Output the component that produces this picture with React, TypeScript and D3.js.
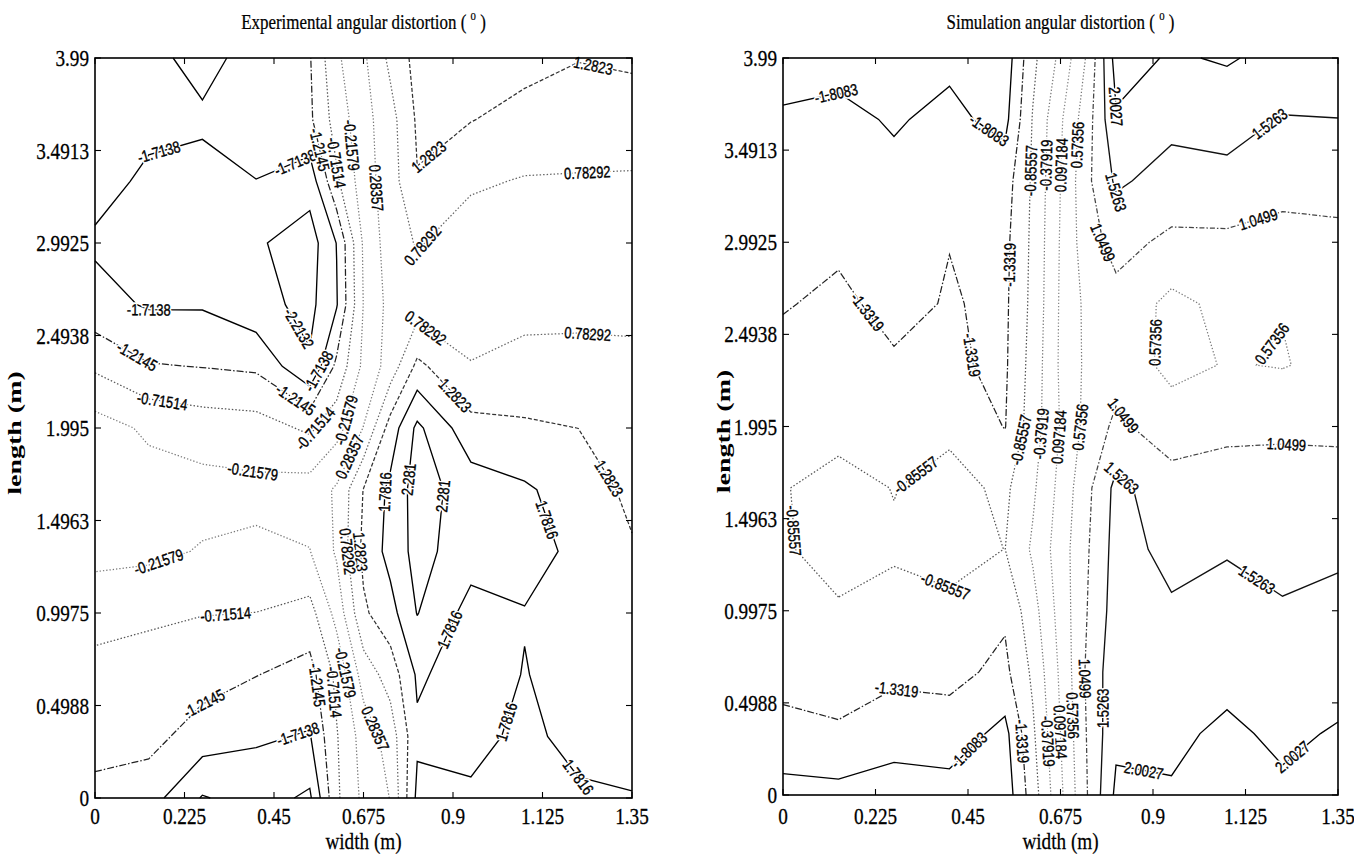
import React from 'react';
import * as d3 from 'd3';

type Pt = [number, number];

// grid node positions (m)
const xNodes = [0, 0.135, 0.27, 0.405, 0.54, 0.6075, 0.675, 0.7425, 0.81, 0.945, 1.08, 1.215, 1.35];
const yNodes = [0, 0.3325, 0.665, 0.9975, 1.33, 1.6625, 1.995, 2.3275, 2.66, 2.9925, 3.325, 3.6575, 3.99];

// Experimental angular distortion, rows from length 0 (bottom) to 3.99 (top)
const expGrid: number[][] = [
  [-1.3, -1.5, -2.25, -2.0, -2.3, -0.8, -0.1, 0.3, 1.9, 1.85, 1.95, 1.85, 1.8],
  [-1.1, -1.05, -1.45, -1.65, -1.75, -0.75, 0.0, 0.5, 1.7, 1.65, 1.88, 1.65, 1.64],
  [-0.95, -0.95, -1.0, -1.2, -1.4, -0.6, 0.5, 1.0, 1.85, 1.55, 1.8, 1.6, 1.52],
  [-0.45, -0.62, -0.7, -0.72, -0.9, -0.05, 1.2, 1.6, 2.3, 1.6, 1.76, 1.62, 1.42],
  [-0.1, -0.1, -0.25, -0.3, -0.23, 0.35, 1.4, 1.95, 2.45, 2.0, 1.95, 1.68, 1.33],
  [0.05, 0.0, -0.05, -0.1, 0.0, 0.35, 1.3, 1.9, 2.5, 2.05, 1.85, 1.55, 1.17],
  [0.0, -0.3, -0.45, -0.5, -0.8, -0.4, 0.3, 1.5, 2.39, 1.45, 1.35, 1.28, 1.0],
  [-0.8, -1.18, -1.23, -1.3, -2.15, -1.1, -0.1, 0.5, 1.4, 0.8, 0.95, 0.88, 0.86],
  [-1.55, -1.76, -1.76, -2.05, -2.35, -1.75, -0.2, 0.45, 0.55, 0.62, 0.62, 0.7, 0.7],
  [-1.78, -1.9, -1.95, -2.15, -2.45, -1.7, -0.15, 0.55, 0.82, 0.55, 0.5, 0.55, 0.55],
  [-1.55, -1.8, -1.85, -1.72, -2.0, -0.8, 0.05, 0.55, 1.26, 0.85, 0.75, 0.74, 0.72],
  [-1.5, -1.6, -1.65, -1.55, -1.3, -0.5, 0.1, 0.6, 1.35, 1.3, 1.11, 1.05, 1.08],
  [-1.5, -1.6, -1.85, -1.55, -1.25, -0.3, 0.2, 0.9, 1.45, 1.55, 1.45, 1.3, 1.35],
];

// Simulation angular distortion
const simGrid: number[][] = [
  [-2.0, -1.95, -2.1, -2.0, -2.1, -1.09, 0.0, 1.08, 2.1, 2.05, 2.2, 2.1, 2.2],
  [-1.45, -1.4, -1.55, -1.55, -1.95, -0.935, 0.097, 1.12, 1.9, 1.9, 2.1, 1.9, 2.05],
  [-1.2, -1.1, -1.25, -1.2, -1.45, -0.77, 0.18, 1.17, 1.85, 1.8, 1.85, 1.75, 1.8],
  [-1.0, -0.9, -1.0, -0.95, -1.25, -0.565, 0.28, 1.08, 1.75, 1.58, 1.65, 1.55, 1.65],
  [-0.9, -0.7, -0.8, -0.7, -0.86, -0.31, 0.335, 1.03, 1.7, 1.4, 1.5, 1.45, 1.45],
  [-0.88, -0.7, -0.87, -0.7, -0.95, -0.46, 0.24, 0.96, 1.65, 1.25, 1.25, 1.3, 1.25],
  [-1.05, -1.0, -1.1, -0.95, -1.35, -0.61, 0.124, 0.76, 1.15, 0.8, 0.95, 0.95, 0.95],
  [-1.2, -1.15, -1.28, -1.28, -1.4, -0.67, 0.17, 0.7, 0.85, 0.45, 0.6, 0.55, 0.7],
  [-1.36, -1.25, -1.45, -1.3, -1.42, -0.73, 0.157, 0.72, 0.9, 0.45, 0.7, 0.59, 0.75],
  [-1.45, -1.4, -1.55, -1.34, -1.45, -0.757, 0.135, 0.883, 1.2, 0.95, 0.95, 0.9, 0.95],
  [-1.6, -1.55, -1.7, -1.55, -1.55, -0.785, 0.097, 0.977, 1.6, 1.35, 1.4, 1.2, 1.2],
  [-1.75, -1.7, -1.85, -1.7, -1.95, -0.826, 0.03, 0.88, 1.95, 1.65, 1.7, 1.5, 1.52],
  [-2.0, -1.95, -2.05, -1.9, -2.1, -0.97, -0.263, 0.667, 2.2, 1.95, 2.05, 1.85, 1.8],
];

const xTicks = [0, 0.225, 0.45, 0.675, 0.9, 1.125, 1.35];
const xTickLabels = ['0', '0.225', '0.45', '0.675', '0.9', '1.125', '1.35'];
const yTicks = [0, 0.49875, 0.9975, 1.49625, 1.995, 2.49375, 2.9925, 3.49125, 3.99];
const yTickLabels = ['0', '0.4988', '0.9975', '1.4963', '1.995', '2.4938', '2.9925', '3.4913', '3.99'];

const expLevels = [-2.2132, -1.7138, -1.2145, -0.71514, -0.21579, 0.28357, 0.78292, 1.2823, 1.7816, 2.281];
const expLevelText = ['-2.2132', '-1.7138', '-1.2145', '-0.71514', '-0.21579', '0.28357', '0.78292', '1.2823', '1.7816', '2.281'];
const simLevels = [-2.2847, -1.8083, -1.3319, -0.85557, -0.37919, 0.097184, 0.57356, 1.0499, 1.5263, 2.0027];
const simLevelText = ['-2.2847', '-1.8083', '-1.3319', '-0.85557', '-0.37919', '0.097184', '0.57356', '1.0499', '1.5263', '2.0027'];

// label anchors: [level index, width (m), length (m)]
const expAnchors: [number, number, number][] = [
  [1, 0.153, 3.54], [1, 0.494, 3.47], [2, 0.572, 3.5], [3, 0.62, 3.43], [4, 0.651, 3.52], [5, 0.712, 3.29],
  [7, 1.245, 3.87], [7, 0.861, 3.4], [6, 1.237, 3.4], [6, 0.839, 2.95], [1, 0.135, 2.6], [0, 0.494, 2.51],
  [6, 0.826, 2.52], [6, 1.237, 2.45], [2, 0.1, 2.36], [1, 0.546, 2.32], [7, 0.905, 2.17], [3, 0.17, 2.15],
  [2, 0.511, 2.17], [3, 0.56, 1.98], [4, 0.61, 2.05], [5, 0.63, 1.85], [4, 0.398, 1.78], [8, 0.73, 1.65],
  [9, 0.778, 1.72], [9, 0.861, 1.63], [7, 1.267, 1.69], [8, 1.15, 1.51], [7, 0.682, 1.33], [6, 0.638, 1.33],
  [4, 0.162, 1.26], [3, 0.328, 1.0], [8, 0.9, 0.9], [2, 0.267, 0.54], [2, 0.559, 0.61], [3, 0.599, 0.57],
  [4, 0.638, 0.68], [5, 0.7, 0.37], [1, 0.511, 0.34], [8, 1.036, 0.41], [8, 1.21, 0.086],
];
const simAnchors: [number, number, number][] = [
  [1, 0.129, 3.8], [1, 0.511, 3.63], [3, 0.612, 3.38], [4, 0.648, 3.41], [5, 0.68, 3.41], [6, 0.707, 3.52],
  [9, 0.807, 3.71], [8, 1.185, 3.63], [8, 0.807, 3.16], [7, 0.766, 2.98], [7, 1.157, 3.11], [2, 0.561, 2.87],
  [2, 0.202, 2.61], [2, 0.425, 2.37], [6, 0.903, 2.45], [6, 1.167, 2.48], [3, 0.584, 1.92], [4, 0.63, 1.955],
  [5, 0.675, 1.937], [6, 0.73, 1.99], [7, 0.825, 2.05], [8, 0.825, 1.72], [7, 1.221, 1.756], [3, 0.33, 1.71],
  [3, 0.02, 1.43], [3, 0.384, 1.066], [8, 1.139, 1.12], [2, 0.275, 0.55], [7, 0.73, 0.63], [6, 0.698, 0.43],
  [5, 0.666, 0.34], [4, 0.639, 0.29], [2, 0.57, 0.29], [8, 0.79, 0.47], [1, 0.466, 0.21],
  [9, 0.875, 0.105], [9, 1.249, 0.18],
];

const expStroke = ['#000', '#000', '#222', '#555', '#777', '#777', '#666', '#333', '#000', '#000'];
const expDash = ['', '', '7,2,1.5,2', '1.5,2', '1.3,2', '1.3,2', '1.5,2', '4,2', '', ''];
const simStroke = ['#000', '#000', '#222', '#555', '#777', '#888', '#777', '#444', '#111', '#000'];
const simDash = ['', '', '7,2,1.5,2', '1.5,2', '1.3,2', '1.3,2', '1.3,2', '5,2,1.5,2', '', ''];

function isolines(xs: number[], ys: number[], z: number[][], t: number): Pt[][] {
  const nx = xs.length, ny = ys.length;
  const pts = new Map<string, Pt>();
  const segs: [string, string][] = [];
  const ep = (i0: number, j0: number, i1: number, j1: number): string => {
    const k = i0 + ',' + j0 + ',' + i1 + ',' + j1;
    if (!pts.has(k)) {
      const v0 = z[j0][i0], v1 = z[j1][i1];
      const f = (t - v0) / (v1 - v0);
      pts.set(k, [xs[i0] + f * (xs[i1] - xs[i0]), ys[j0] + f * (ys[j1] - ys[j0])]);
    }
    return k;
  };
  for (let j = 0; j < ny - 1; j++) {
    for (let i = 0; i < nx - 1; i++) {
      const a = z[j][i], b = z[j][i + 1], c = z[j + 1][i + 1], d = z[j + 1][i];
      const A = a > t, B = b > t, C = c > t, D = d > t;
      const bottom = A !== B ? ep(i, j, i + 1, j) : null;
      const right = B !== C ? ep(i + 1, j, i + 1, j + 1) : null;
      const top = D !== C ? ep(i, j + 1, i + 1, j + 1) : null;
      const left = A !== D ? ep(i, j, i, j + 1) : null;
      const e = [bottom, right, top, left].filter((v) => v !== null) as string[];
      if (e.length === 2) segs.push([e[0], e[1]]);
      else if (e.length === 4) {
        const center = (a + b + c + d) / 4 > t;
        if (A && C) {
          if (center) { segs.push([bottom!, right!]); segs.push([top!, left!]); }
          else { segs.push([bottom!, left!]); segs.push([right!, top!]); }
        } else {
          if (center) { segs.push([bottom!, left!]); segs.push([right!, top!]); }
          else { segs.push([bottom!, right!]); segs.push([top!, left!]); }
        }
      }
    }
  }
  const adj = new Map<string, number[]>();
  segs.forEach((s, idx) => {
    for (const k of s) {
      if (!adj.has(k)) adj.set(k, []);
      adj.get(k)!.push(idx);
    }
  });
  const used = new Array(segs.length).fill(false);
  const out: Pt[][] = [];
  const walk = (startSeg: number, startKey: string) => {
    const keys = [startKey];
    let seg = startSeg, key = startKey;
    while (seg >= 0 && !used[seg]) {
      used[seg] = true;
      const s = segs[seg];
      const next = s[0] === key ? s[1] : s[0];
      keys.push(next);
      key = next;
      const cand = (adj.get(key) || []).filter((x) => !used[x]);
      seg = cand.length ? cand[0] : -1;
    }
    out.push(keys.map((k) => pts.get(k)!));
  };
  adj.forEach((list, k) => { if (list.length === 1 && !used[list[0]]) walk(list[0], k); });
  segs.forEach((s, idx) => { if (!used[idx]) walk(idx, s[0]); });
  return out;
}

function nearest(polys: Pt[][], px: number, py: number) {
  let best: { x: number; y: number; ang: number } | null = null;
  let bd = Infinity;
  for (const poly of polys) {
    for (let i = 0; i < poly.length - 1; i++) {
      const [ax, ay] = poly[i], [bx, by] = poly[i + 1];
      const dx = bx - ax, dy = by - ay;
      const L2 = dx * dx + dy * dy;
      if (L2 < 1e-9) continue;
      let u = ((px - ax) * dx + (py - ay) * dy) / L2;
      u = Math.max(0, Math.min(1, u));
      const qx = ax + u * dx, qy = ay + u * dy;
      const dd = (qx - px) ** 2 + (qy - py) ** 2;
      if (dd < bd) {
        bd = dd;
        let ang = (Math.atan2(dy, dx) * 180) / Math.PI;
        if (ang > 90) ang -= 180;
        if (ang < -90) ang += 180;
        best = { x: qx, y: qy, ang };
      }
    }
  }
  return best;
}

const SERIF = "'Liberation Serif', 'Times New Roman', serif";
const SANS = "'Liberation Sans', Arial, sans-serif";

type PanelProps = {
  left: number; right: number; bottom: number; top: number;
  grid: number[][]; levels: number[]; levelText: string[];
  anchors: [number, number, number][]; strokes: string[]; dashes: string[];
  title: string; titleScale: number; ylabX: number;
};

function Panel(p: PanelProps) {
  const sx = d3.scaleLinear().domain([0, 1.35]).range([p.left, p.right]);
  const sy = d3.scaleLinear().domain([0, 3.99]).range([p.bottom, p.top]);
  const line = d3.line<Pt>().x((d) => d[0]).y((d) => d[1]);
  const sets = p.levels.map((t) => isolines(xNodes, yNodes, p.grid, t));
  const pix = sets.map((set) => set.map((poly) => poly.map((q) => [sx(q[0]), sy(q[1])] as Pt)));
  const cx = (p.left + p.right) / 2;
  const cy = (p.top + p.bottom) / 2;
  return (
    <g>
      <text transform={`translate(${cx},29) scale(${p.titleScale},1)`} textAnchor="middle" fontFamily={SERIF} fontSize={22}
        stroke="#000" strokeWidth={0.25}>
        <tspan>{p.title + ' ( '}</tspan>
        <tspan dy={-9} fontSize={14}>o</tspan>
        <tspan dy={9}>{' )'}</tspan>
      </text>
      {pix.map((set, k) =>
        set.map((poly, n) => (
          <path key={`c${k}-${n}`} d={line(poly) || ''} fill="none" stroke={p.strokes[k]}
            strokeWidth={p.dashes[k] ? 1.25 : 1.35} strokeDasharray={p.dashes[k] || undefined} />
        ))
      )}
      {p.anchors.map(([k, x, y], n) => {
        const r = nearest(pix[k], sx(x), sy(y));
        if (!r) return null;
        return (
          <g key={`l${n}`} transform={`translate(${r.x},${r.y}) rotate(${r.ang}) scale(0.86,1.08)`}>
            <text textAnchor="middle" dy="0.36em" fontFamily={SANS} fontSize={15} fill="#fff"
              stroke="#fff" strokeWidth={3.5} strokeLinejoin="round">
              {p.levelText[k]}
            </text>
            <text textAnchor="middle" dy="0.36em" fontFamily={SANS} fontSize={15} fill="#000"
              stroke="#000" strokeWidth={0.35}>
              {p.levelText[k]}
            </text>
          </g>
        );
      })}
      <rect x={p.left} y={p.top} width={p.right - p.left} height={p.bottom - p.top} fill="none" stroke="#000" strokeWidth={1.6} />
      {xTicks.map((v, i) => (
        <g key={`xt${i}`}>
          <line x1={sx(v)} x2={sx(v)} y1={p.bottom} y2={p.bottom - 6} stroke="#000" strokeWidth={1.1} />
          <line x1={sx(v)} x2={sx(v)} y1={p.top} y2={p.top + 6} stroke="#000" strokeWidth={1.1} />
          <text transform={`translate(${sx(v)},824) scale(0.8,1)`} textAnchor="middle" fontFamily={SERIF} fontSize={24}
            stroke="#000" strokeWidth={0.3}>
            {xTickLabels[i]}
          </text>
        </g>
      ))}
      {yTicks.map((v, i) => (
        <g key={`yt${i}`}>
          <line x1={p.left} x2={p.left + 6} y1={sy(v)} y2={sy(v)} stroke="#000" strokeWidth={1.1} />
          <line x1={p.right} x2={p.right - 6} y1={sy(v)} y2={sy(v)} stroke="#000" strokeWidth={1.1} />
          <text transform={`translate(${p.left - 6},${sy(v) + 8}) scale(0.8,1)`} textAnchor="end" fontFamily={SERIF} fontSize={24}
            stroke="#000" strokeWidth={0.3}>
            {yTickLabels[i]}
          </text>
        </g>
      ))}
      <text transform={`translate(${cx},849) scale(0.8,1)`} textAnchor="middle" fontFamily={SERIF} fontSize={24}
        stroke="#000" strokeWidth={0.25}>
        width (m)
      </text>
      <text transform={`translate(${p.ylabX},${cy + 5}) rotate(-90) scale(1.4,0.95)`} textAnchor="middle" fontFamily={SERIF}
        fontSize={20} fontWeight="bold">
        length (m)
      </text>
    </g>
  );
}

export default function App() {
  return (
    <svg width={1354} height={868} viewBox="0 0 1354 868" style={{ position: 'absolute', left: 0, top: 0, background: '#fff' }}>
      <rect x={0} y={0} width={1354} height={868} fill="#fff" />
      <Panel left={95} right={632} bottom={798} top={58} grid={expGrid} levels={expLevels} levelText={expLevelText}
        anchors={expAnchors} strokes={expStroke} dashes={expDash} title="Experimental angular distortion"
        titleScale={0.77} ylabX={21} />
      <Panel left={783} right={1338} bottom={795} top={58} grid={simGrid} levels={simLevels} levelText={simLevelText}
        anchors={simAnchors} strokes={simStroke} dashes={simDash} title="Simulation angular distortion"
        titleScale={0.77} ylabX={730} />
    </svg>
  );
}
